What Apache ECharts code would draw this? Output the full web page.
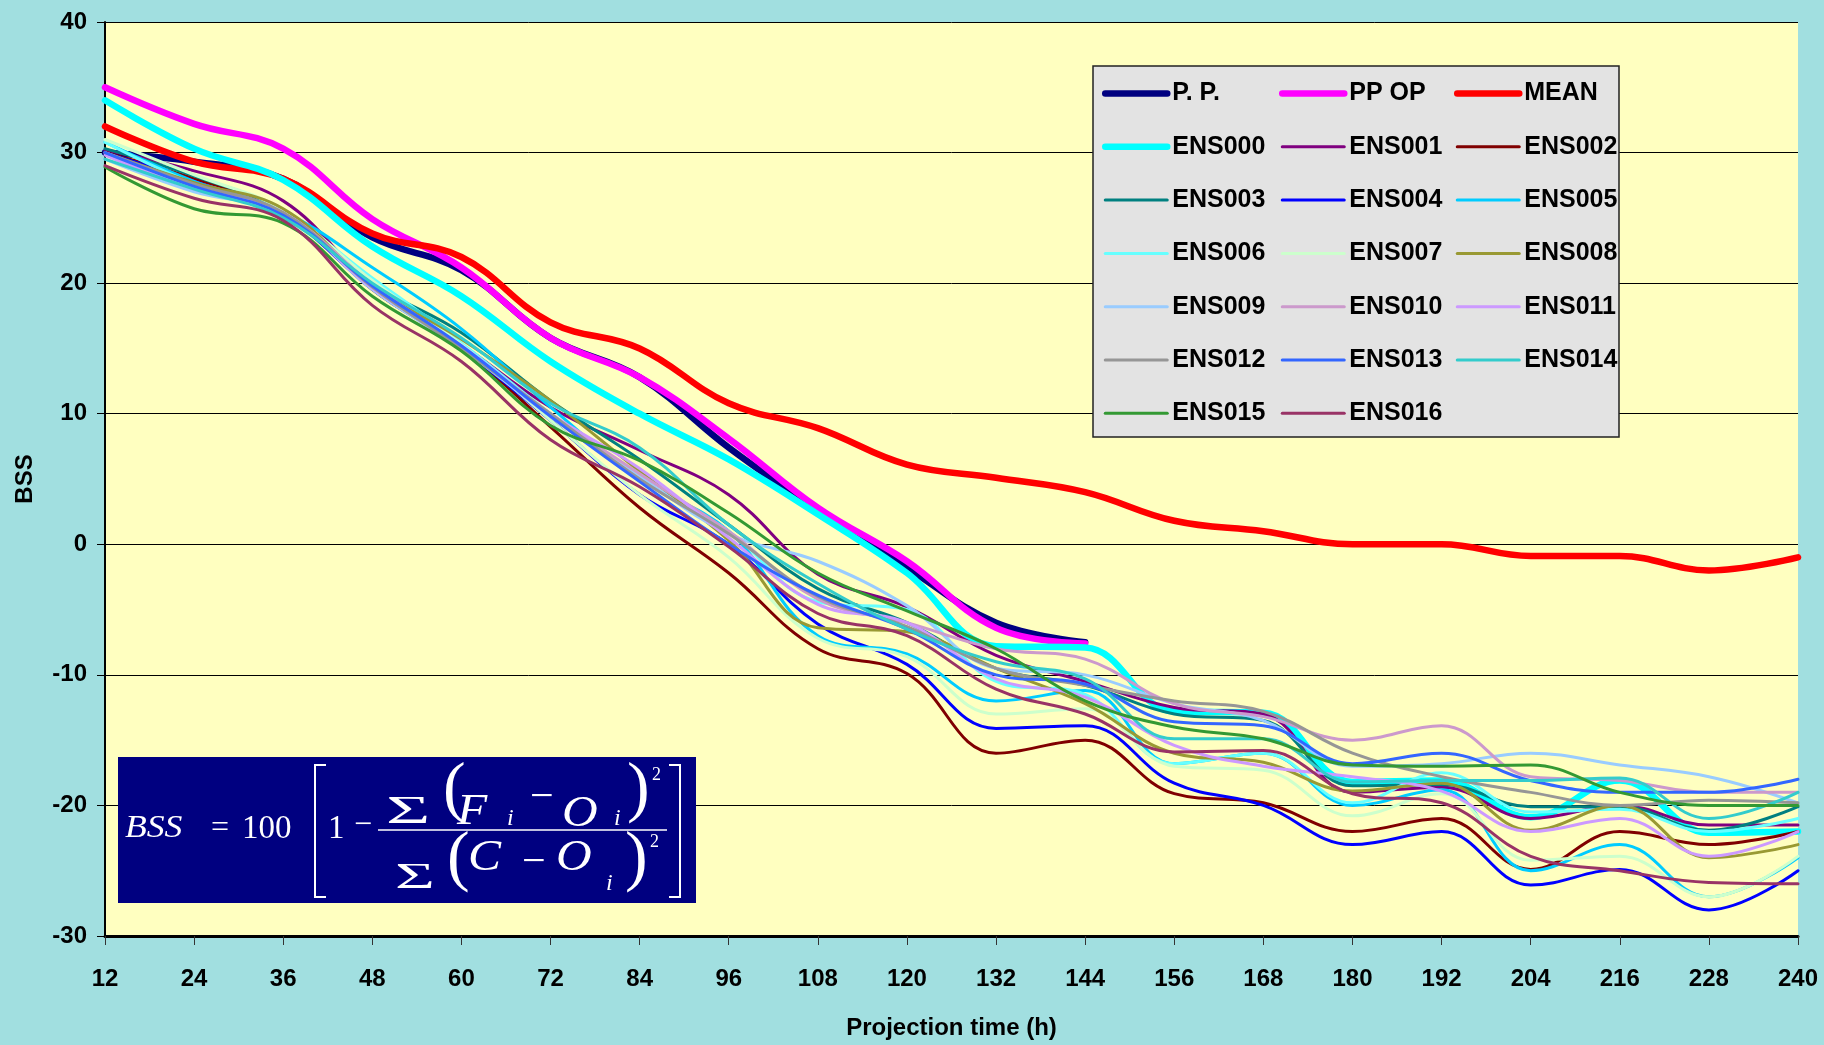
<!DOCTYPE html>
<html>
<head>
<meta charset="utf-8">
<script src="https://cdn.jsdelivr.net/npm/echarts@6/dist/echarts.min.js"></script>
<style>
  html, body { margin: 0; padding: 0; background: #a1dfe0; }
  #c1 { width: 1824px; height: 1045px; }
</style>
</head>
<body>
<div id="c1"></div>
<script>
// projection times (h)
var hours = [12, 24, 36, 48, 60, 72, 84, 96, 108, 120, 132, 144, 156, 168, 180, 192, 204, 216, 228, 240];

// BSS values
var pp     = [30.0, 29.3, 28.0, 23.5, 21.0, 15.8, 12.8, 7.4, 2.6, -1.8, -6.0, -7.5, null, null, null, null, null, null, null, null];
var ppOp   = [35.0, 32.2, 30.3, 24.9, 21.2, 15.8, 12.8, 8.1, 2.8, -1.3, -6.4, -7.6, null, null, null, null, null, null, null, null];
var mean   = [32.0, 29.3, 28.0, 23.8, 22.0, 17.0, 15.0, 10.8, 8.9, 6.1, 5.1, 4.0, 1.8, 1.0, 0.0, 0.0, -0.9, -0.9, -2.0, -1.0];
var ens000 = [34.0, 30.3, 27.9, 22.8, 19.0, 14.0, 10.0, 6.5, 2.3, -2.2, -7.8, -7.9, -12.8, -12.9, -18.2, -18.1, -20.9, -18.1, -22.1, -22.0];
var ens001 = [30.2, 28.6, 26.3, 19.8, 15.3, 10.5, 7.2, 3.8, -2.3, -4.8, -8.5, -10.5, -12.5, -13.0, -19.0, -18.6, -21.0, -20.0, -21.5, -21.5];
var ens002 = [30.0, 28.0, 25.5, 19.5, 15.0, 9.0, 2.8, -2.2, -8.0, -9.9, -16.0, -15.0, -19.1, -19.8, -22.0, -21.0, -24.9, -22.0, -23.0, -22.0];
var ens003 = [30.3, 28.2, 25.5, 20.0, 16.2, 11.0, 6.5, 1.5, -3.4, -6.0, -9.5, -10.8, -13.0, -13.5, -18.5, -18.4, -20.1, -20.1, -21.9, -20.1];
var ens004 = [30.0, 27.8, 25.2, 19.6, 15.0, 9.5, 3.8, 0.0, -6.1, -9.2, -14.1, -13.9, -18.3, -20.0, -23.0, -22.0, -26.1, -24.9, -28.0, -25.0];
var ens005 = [30.8, 27.8, 25.5, 21.2, 16.5, 10.5, 5.0, 1.0, -7.0, -8.4, -12.0, -11.2, -16.8, -16.0, -20.0, -18.8, -25.0, -23.0, -27.0, -24.0];
var ens006 = [30.8, 27.6, 25.3, 20.4, 15.4, 10.0, 5.0, 1.0, -4.4, -5.0, -10.5, -11.5, -16.8, -16.0, -19.8, -17.5, -20.5, -20.3, -22.0, -21.0];
var ens007 = [31.0, 28.3, 25.6, 20.2, 15.3, 9.5, 3.8, -1.0, -7.2, -8.6, -13.0, -12.6, -17.0, -17.3, -20.8, -19.1, -24.2, -23.9, -27.0, -23.9];
var ens008 = [30.0, 27.7, 25.7, 19.8, 15.7, 11.0, 5.6, 0.3, -6.4, -6.7, -9.5, -12.2, -16.0, -16.7, -18.9, -18.3, -21.9, -20.0, -24.0, -23.0];
var ens009 = [29.5, 27.0, 25.3, 19.5, 15.0, 9.8, 5.2, 0.8, -1.3, -4.7, -9.5, -10.0, -12.2, -13.5, -17.0, -16.8, -16.0, -16.9, -17.8, -19.8];
var ens010 = [30.0, 27.5, 25.4, 19.9, 15.1, 10.0, 5.4, 1.0, -4.2, -6.0, -8.0, -8.8, -12.2, -13.2, -15.0, -13.9, -17.8, -18.1, -19.0, -19.0];
var ens011 = [29.8, 27.2, 25.3, 19.6, 15.2, 10.0, 5.8, 0.5, -4.6, -6.0, -10.3, -11.7, -15.4, -17.0, -17.8, -18.9, -22.0, -21.0, -23.9, -22.0];
var ens012 = [30.0, 27.6, 25.4, 19.7, 15.0, 10.0, 5.0, 0.8, -4.0, -6.3, -9.5, -10.8, -12.0, -12.8, -16.0, -17.8, -19.0, -20.0, -19.6, -19.8];
var ens013 = [30.0, 27.4, 25.2, 19.8, 15.2, 9.8, 4.8, 0.0, -3.9, -6.5, -10.0, -10.7, -13.6, -13.9, -16.8, -16.0, -18.1, -19.0, -19.0, -18.0];
var ens014 = [29.5, 27.2, 25.0, 20.0, 15.8, 10.8, 7.4, 1.5, -3.0, -6.5, -9.0, -10.3, -14.9, -14.9, -18.2, -18.1, -18.1, -17.9, -21.0, -19.0];
var ens015 = [28.9, 25.7, 24.6, 19.0, 14.8, 9.1, 6.4, 2.4, -2.2, -5.1, -8.0, -12.0, -14.0, -14.9, -16.9, -17.0, -16.9, -19.0, -20.0, -20.0];
var ens016 = [29.0, 26.5, 24.8, 18.3, 14.0, 8.0, 4.4, -0.2, -5.3, -7.0, -11.1, -13.0, -15.9, -15.8, -19.1, -19.8, -23.9, -25.0, -25.9, -26.0];

var yTicks = { min: -30, max: 40, step: 10 };

var lines = [
  { name: "P. P.", data: pp, color: "#000080", width: 6.5 },
  { name: "PP OP", data: ppOp, color: "#ff00ff", width: 6.5 },
  { name: "MEAN", data: mean, color: "#ff0000", width: 6.5 },
  { name: "ENS000", data: ens000, color: "#00ffff", width: 6.5 },
  { name: "ENS001", data: ens001, color: "#800080", width: 3 },
  { name: "ENS002", data: ens002, color: "#800000", width: 3 },
  { name: "ENS003", data: ens003, color: "#008080", width: 3 },
  { name: "ENS004", data: ens004, color: "#0000ff", width: 3 },
  { name: "ENS005", data: ens005, color: "#00ccff", width: 3 },
  { name: "ENS006", data: ens006, color: "#66ffff", width: 3 },
  { name: "ENS007", data: ens007, color: "#ccffcc", width: 3 },
  { name: "ENS008", data: ens008, color: "#999933", width: 3 },
  { name: "ENS009", data: ens009, color: "#99ccff", width: 3 },
  { name: "ENS010", data: ens010, color: "#cc99cc", width: 3 },
  { name: "ENS011", data: ens011, color: "#cc99ff", width: 3 },
  { name: "ENS012", data: ens012, color: "#969696", width: 3 },
  { name: "ENS013", data: ens013, color: "#3366ff", width: 3 },
  { name: "ENS014", data: ens014, color: "#33cccc", width: 3 },
  { name: "ENS015", data: ens015, color: "#339933", width: 3 },
  { name: "ENS016", data: ens016, color: "#993366", width: 3 }
];

var font = "Liberation Sans";
var serif = "Liberation Serif";

var series = lines.map(function (l) {
  return {
    name: l.name,
    type: "line",
    data: l.data,
    smooth: 0.4,
    symbol: "none",
    color: l.color,
    lineStyle: { color: l.color, width: l.width, cap: "round" }
  };
});

// legend laid out as 3 columns, row-major like the original
function legendCol(start, left) {
  var names = [];
  for (var i = start; i < lines.length; i += 3) names.push(lines[i].name);
  return {
    data: names,
    orient: "vertical",
    left: left,
    top: 81,
    padding: 0,
    itemWidth: 62,
    itemHeight: 14,
    itemGap: 28.3,
    selectedMode: false,
    itemStyle: { opacity: 0 },
    lineStyle: { width: "inherit", cap: "round" },
    textStyle: { fontSize: 25, fontWeight: "bold", fontFamily: font, color: "#000" }
  };
}

// formula glyph helper
function t(text, x, y, size, italic, sx) {
  return {
    type: "text",
    x: x,
    y: y,
    scaleX: sx || 1,
    z: 10,
    style: {
      text: text,
      fill: "#fff",
      font: (italic ? "italic " : "") + size + "px '" + serif + "'",
      textVerticalAlign: "middle"
    }
  };
}

var formula = [
  { type: "rect", shape: { x: 118, y: 757, width: 578, height: 146 }, style: { fill: "#000080" }, z: 9 },
  t("BSS", 125, 829, 31, true, 1.15),
  t("=", 211, 829, 32),
  t("100", 242, 829, 33),
  { type: "polyline", shape: { points: [[326, 765], [315, 765], [315, 897], [326, 897]] }, style: { stroke: "#fff", lineWidth: 2, fill: null }, z: 10 },
  t("1", 328, 829, 33),
  t("\u2212", 354, 826, 32),
  { type: "line", shape: { x1: 378, y1: 830, x2: 667, y2: 830 }, style: { stroke: "#fff", lineWidth: 1.5 }, z: 10 },
  // numerator
  t("\u03A3", 386, 812, 40, false, 1.9),
  t("(", 443, 791, 68),
  t("F", 457, 812, 45, true, 1.1),
  t("i", 507, 819, 24, true),
  t("\u2212", 530, 798, 42),
  t("O", 562, 814, 45, true, 1.1),
  t("i", 614, 819, 24, true),
  t(")", 627, 791, 68),
  t("2", 652, 775, 18),
  // denominator
  t("\u03A3", 395, 879, 36, false, 1.9),
  t("(", 447, 860, 68),
  t("C", 468, 858, 45, true, 1.1),
  t("\u2212", 522, 863, 42),
  t("O", 556, 858, 45, true, 1.1),
  t("i", 606, 884, 24, true),
  t(")", 625, 860, 68),
  t("2", 650, 842, 18),
  { type: "polyline", shape: { points: [[669, 765], [680, 765], [680, 897], [669, 897]] }, style: { stroke: "#fff", lineWidth: 2, fill: null }, z: 10 }
];

var chartDom = document.getElementById("c1");
var myChart = echarts.init(chartDom);
var option;

option = {
  animation: false,
  backgroundColor: "#a1dfe0",
  grid: {
    left: 105,
    right: 26,
    top: 22,
    bottom: 105,
    show: true,
    backgroundColor: "#ffffc0",
    borderWidth: 0
  },
  legend: [legendCol(0, 1102), legendCol(1, 1279), legendCol(2, 1454)],
  xAxis: {
    type: "category",
    data: hours,
    boundaryGap: false,
    name: "Projection time (h)",
    nameLocation: "middle",
    nameGap: 80,
    nameTextStyle: { fontSize: 24, fontWeight: "bold", fontFamily: font, color: "#000" },
    axisLine: { onZero: false, lineStyle: { color: "#000", width: 3 } },
    axisTick: { show: true, length: 9, lineStyle: { color: "#333", width: 1 } },
    axisLabel: { interval: 0, margin: 31, fontSize: 24, fontWeight: "bold", fontFamily: font, color: "#000" },
    splitLine: { show: false }
  },
  yAxis: {
    type: "value",
    min: yTicks.min,
    max: yTicks.max,
    interval: yTicks.step,
    name: "BSS",
    nameLocation: "middle",
    nameRotate: 90,
    nameGap: 68,
    nameTextStyle: { fontSize: 24, fontWeight: "bold", fontFamily: font, color: "#000" },
    axisLine: { show: true, lineStyle: { color: "#000", width: 2 } },
    axisTick: { show: true, length: 8, lineStyle: { color: "#000", width: 1 } },
    axisLabel: { margin: 18, fontSize: 24, fontWeight: "bold", fontFamily: font, color: "#000" },
    splitLine: { show: true, lineStyle: { color: "#000", width: 1 } }
  },
  graphic: [
    { type: "rect", shape: { x: 1093, y: 66, width: 526, height: 371 }, style: { fill: "#e3e3e3", stroke: "#222", lineWidth: 1.5 }, z: 3 }
  ].concat(formula),
  series: series
};

myChart.setOption(option);
window.addEventListener("resize", function () {
  myChart.resize();
});
</script>
</body>
</html>
